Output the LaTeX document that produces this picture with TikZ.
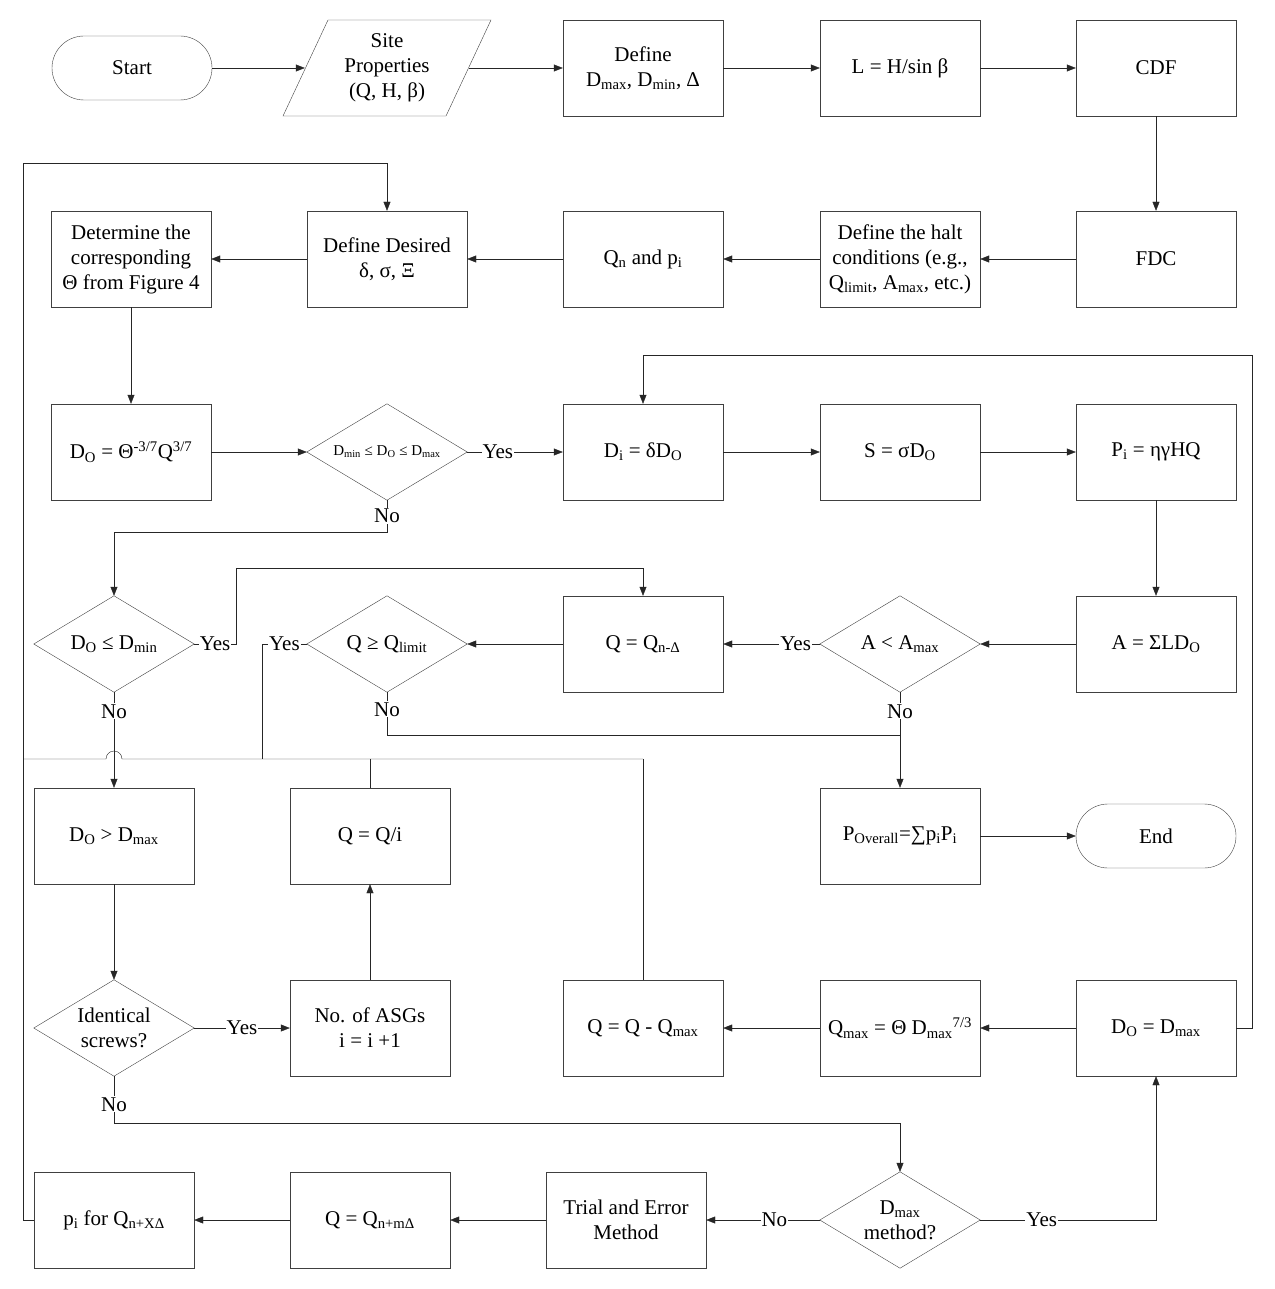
\documentclass[tikz,border=0pt]{standalone}
\usepackage{fontspec}
\setmainfont{Liberation Serif}
\usetikzlibrary{shapes.geometric,arrows.meta}
\newcommand{\sbs}[1]{\textsubscript{#1}}
\begin{document}
\begin{tikzpicture}[x=1pt,y=-1pt,
  every node/.style={font=\fontsize{21}{25}\selectfont},
  box/.style={draw=black!75,minimum width=160pt,minimum height=96pt,align=center,inner sep=2pt},
  term/.style={draw=black!75,rounded corners=32pt,minimum width=160pt,minimum height=64pt},
  dia/.style={minimum width=160pt,minimum height=96pt,inner sep=0pt,align=center,
    append after command={\pgfextra{\draw[black!75] (\tikzlastnode.north)--(\tikzlastnode.east)--(\tikzlastnode.south)--(\tikzlastnode.west)--cycle;}}},
  lab/.style={fill=white,inner sep=1pt},
  ar/.style={-{Triangle[length=9pt,width=7pt]},draw=black!85},
  ln/.style={draw=black!85}]
\useasboundingbox (0,0) rectangle (1274,1289);
% row 1
\node[term] (start) at (132,68) {Start};
\node[minimum width=164pt,minimum height=96pt,align=center,inner sep=0pt] (site) at (387,68) {Site\\Properties\\(Q, H, β)};
\draw[black!75] (283,116)--(328,20)--(491,20)--(446,116)--cycle;
\node[box] (def) at (643,68) {Define\\D\sbs{max}, D\sbs{min}, Δ};
\node[box] (L) at (900,68) {L = H/sin β};
\node[box] (cdf) at (1156,68) {CDF};
% row 2
\node[box] (det) at (131,259) {Determine the\\corresponding\\Θ from Figure 4};
\node[box] (dd) at (387,259) {Define Desired\\δ, σ, Ξ};
\node[box] (qn) at (643,259) {Q\sbs{n} and p\sbs{i}};
\node[box] (halt) at (900,259) {Define the halt\\conditions (e.g.,\\Q\sbs{limit}, A\sbs{max}, etc.)};
\node[box] (fdc) at (1156,259) {FDC};
% row 3
\node[box] (do) at (131,452) {D\sbs{O} = Θ\textsuperscript{-3/7}Q\textsuperscript{3/7}};
\node[dia,font=\fontsize{15}{18}\selectfont] (d1) at (387,452) {D\sbs{min} ≤ D\sbs{O} ≤ D\sbs{max}};
\node[box] (di) at (643,452) {D\sbs{i} = δD\sbs{O}};
\node[box] (s) at (900,452) {S = σD\sbs{O}};
\node[box] (pi) at (1156,452) {P\sbs{i} = ηγHQ};
% row 4
\node[dia] (d2) at (114,644) {D\sbs{O} ≤ D\sbs{min}};
\node[dia] (d3) at (387,644) {Q ≥ Q\sbs{limit}};
\node[box] (qnd) at (643,644) {Q = Q\sbs{n-Δ}};
\node[dia] (d4) at (900,644) {A < A\sbs{max}};
\node[box] (a) at (1156,644) {A = ΣLD\sbs{O}};
% row 5
\node[box] (dgt) at (114,836) {D\sbs{O} > D\sbs{max}};
\node[box] (qi) at (370,836) {Q = Q/i};
\node[box] (pov) at (900,836) {P\sbs{Overall}=∑p\sbs{i}P\sbs{i}};
\node[term] (end) at (1156,836) {End};
% row 6
\node[dia] (d5) at (114,1028) {Identical\\screws?};
\node[box] (asg) at (370,1028) {No. of ASGs\\i = i +1};
\node[box] (qqm) at (643,1028) {Q = Q - Q\sbs{max}};
\node[box] (qmax) at (900,1028) {Q\sbs{max} = Θ D\sbs{max}\textsuperscript{7/3}};
\node[box] (dodm) at (1156,1028) {D\sbs{O} = D\sbs{max}};
% row 7
\node[box] (pq) at (114,1220) {p\sbs{i} for Q\sbs{n+XΔ}};
\node[box] (qnm) at (370,1220) {Q = Q\sbs{n+mΔ}};
\node[box] (te) at (626,1220) {Trial and Error\\Method};
\node[dia] (d6) at (900,1220) {D\sbs{max}\\method?};
% connectors
\draw[ar] (start) -- (site);
\draw[ar] (site) -- (def);
\draw[ar] (def) -- (L);
\draw[ar] (L) -- (cdf);
\draw[ar] (cdf) -- (fdc);
\draw[ar] (fdc) -- (halt);
\draw[ar] (halt) -- (qn);
\draw[ar] (qn) -- (dd);
\draw[ar] (dd) -- (det);
\draw[ar] (det) -- (do);
\draw[ar] (do) -- (d1);
\draw[ar] (d1) -- node[lab,pos=0.32]{Yes} (di);
\draw[ar] (di) -- (s);
\draw[ar] (s) -- (pi);
\draw[ar] (pi) -- (a);
\draw[ar] (a) -- (d4);
\draw[ar] (d4) -- node[lab,pos=0.25]{Yes} (qnd);
\draw[ar] (qnd) -- (d3);
\draw[ar] (d4) -- node[lab,pos=0.2]{No} (pov);
\draw[ln] (d3.south) -- node[lab,pos=0.4]{No} (387,735) -- (900,735);
\draw[ar] (pov) -- (end);
\draw[ln] (d3.west) -- node[lab,pos=0.5]{Yes} (262,644) -- (262,759);
\draw[ar] (d1.south) -- node[lab,pos=0.5]{No} (387,532) -- (114,532) -- (d2.north);
\draw[ar] (d2.east) -- node[lab,pos=0.5]{Yes} (236,644) -- (236,568) -- (643,568) -- (qnd.north);
\draw[ar] (d2.south) -- node[lab,pos=0.2]{No} (dgt.north);
\draw[ar] (dgt) -- (d5);
\draw[ar] (d5) -- node[lab,pos=0.5]{Yes} (asg);
\draw[ar] (asg) -- (qi);
\draw[ln] (qi.north) -- (370,759);
\draw[ar] (d5.south) -- node[lab,pos=0.6]{No} (114,1123) -- (900,1123) -- (d6.north);
\draw[ar] (d6.east) -- node[lab,pos=0.35]{Yes} (1156,1220) -- (dodm.south);
\draw[ar] (d6) -- node[lab,pos=0.4]{No} (te);
\draw[ar] (te) -- (qnm);
\draw[ar] (qnm) -- (pq);
\draw[ar] (dodm) -- (qmax);
\draw[ar] (qmax) -- (qqm);
\draw[ln] (qqm.north) -- (643,759);
\draw[ar] (dodm.east) -- (1252,1028) -- (1252,355) -- (643,355) -- (di.north);
\draw[ar] (pq.west) -- (23,1220) -- (23,163) -- (387,163) -- (dd.north);
\draw[ln] (23,759) -- (106,759) arc (180:360:8) -- (643,759);
\end{tikzpicture}
\end{document}
